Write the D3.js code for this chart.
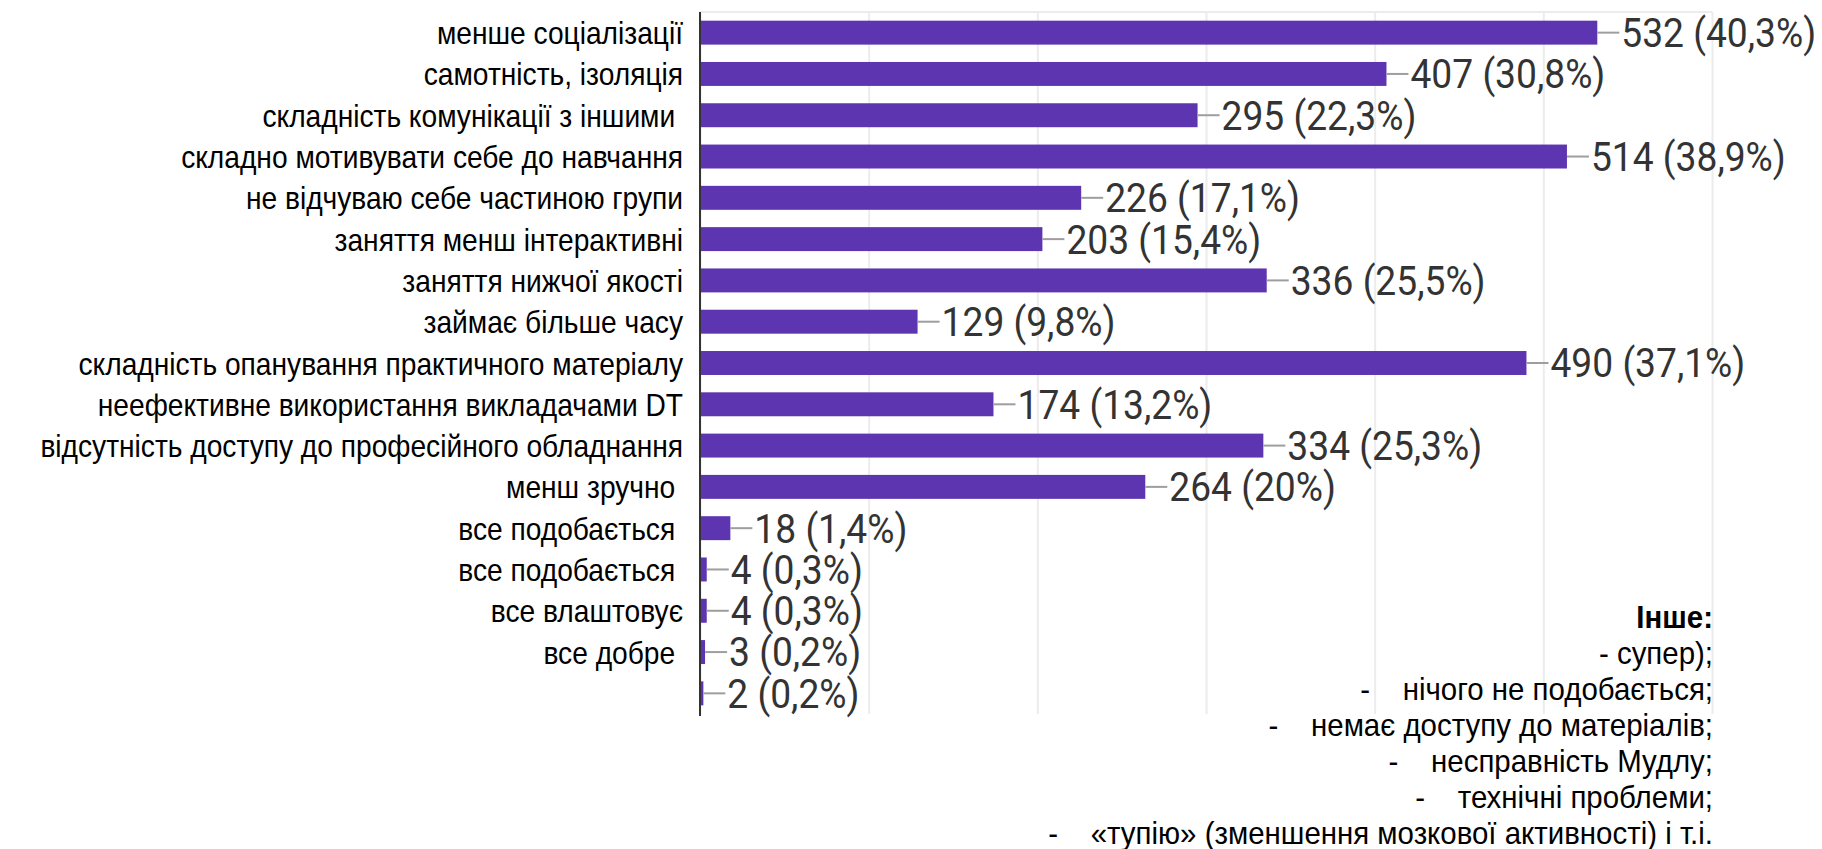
<!DOCTYPE html>
<html>
<head>
  <meta charset="utf8">
  <title>Недоліки дистанційного навчання</title>
  <style type="text/css">
    body { margin: 0; background: #fff; }
    svg text { white-space: pre; }
    .cat { font-family: "Liberation Sans", Arial, sans-serif; font-size: 32px; fill: #000; }
    .val { font-family: Roboto, sans-serif; font-size: 40px; fill: #333; }
    .other { font-family: "Liberation Sans", Arial, sans-serif; font-size: 32px; fill: #000; }
    .grid line { stroke: #ececec; stroke-width: 2; }
    .grid .domain { display: none; }
  </style>
</head>
<body>

<script src="https://d3js.org/d3.v7.min.js"></script>

<script type="text/javascript">

var categories = [
  'менше соціалізації',
  'самотність, ізоляція',
  'складність комунікації з іншими ',
  'складно мотивувати себе до навчання',
  'не відчуваю себе частиною групи',
  'заняття менш інтерактивні',
  'заняття нижчої якості',
  'займає більше часу',
  'складність опанування практичного матеріалу',
  'неефективне використання викладачами DT',
  'відсутність доступу до професійного обладнання',
  'менш зручно ',
  'все подобається ',
  'все подобається ',
  'все влаштовує',
  'все добре ',
  ''
]

var counts = [532, 407, 295, 514, 226, 203, 336, 129, 490, 174, 334, 264, 18, 4, 4, 3, 2]

var percents = ['40,3%', '30,8%', '22,3%', '38,9%', '17,1%', '15,4%', '25,5%', '9,8%',
  '37,1%', '13,2%', '25,3%', '20%', '1,4%', '0,3%', '0,3%', '0,2%', '0,2%']

var xTicks = [0, 100, 200, 300, 400, 500, 600]

var otherTitle = 'Інше:'
var otherItems = [
  '- супер);',
  '-    нічого не подобається;',
  '-    немає доступу до матеріалів;',
  '-    несправність Мудлу;',
  '-    технічні проблеми;',
  '-    «тупію» (зменшення мозкової активності) і т.і.'
]

var width = 1822, height = 849
var plotLeft = 700, plotRight = 1712, plotTop = 12, plotBottom = 714
var catSqueeze = 0.88, valSqueeze = 0.93, otherSqueeze = 0.92

var svg = d3.select('body').append('svg')
    .attr('width', width)
    .attr('height', height)

var x = d3.scaleLinear()
    .domain([0, 600])
    .range([plotLeft, plotRight])

var y = d3.scaleBand()
    .domain(d3.range(categories.length))
    .range([plotTop, plotBottom])
    .paddingInner(0.42)
    .paddingOuter(0.21)

// grid + frame
svg.append('g')
    .attr('class', 'grid')
    .attr('transform', 'translate(0,' + plotBottom + ')')
    .call(d3.axisBottom(x).tickValues(xTicks).tickSize(-(plotBottom - plotTop)).tickFormat(''))

svg.append('line')
    .attr('x1', plotLeft).attr('x2', plotRight)
    .attr('y1', plotTop).attr('y2', plotTop)
    .style('stroke', '#ececec').style('stroke-width', 2)

// bars
svg.append('g').selectAll('rect')
    .data(counts)
    .enter()
    .append('rect')
    .attr('x', x(0))
    .attr('y', function(d, i) { return y(i) })
    .attr('width', function(d) { return x(d) - x(0) })
    .attr('height', y.bandwidth())
    .style('fill', '#5e35b1')

// leader lines + value labels
var vals = svg.append('g').selectAll('g')
    .data(counts)
    .enter()
    .append('g')
    .attr('transform', function(d, i) {
      return 'translate(' + x(d) + ',' + (y(i) + y.bandwidth() / 2) + ')'
    })

vals.append('line')
    .attr('x1', 0).attr('x2', 22)
    .style('stroke', '#9e9e9e').style('stroke-width', 2)

vals.append('text')
    .attr('class', 'val')
    .attr('dy', '0.36em')
    .attr('transform', 'translate(24,0) scale(' + valSqueeze + ',1)')
    .text(function(d, i) { return d + ' (' + percents[i] + ')' })

// category labels
svg.append('g').selectAll('text')
    .data(categories)
    .enter()
    .append('text')
    .attr('class', 'cat')
    .attr('text-anchor', 'end')
    .attr('dy', '0.36em')
    .attr('transform', function(d, i) {
      return 'translate(683,' + (y(i) + y.bandwidth() / 2) + ') scale(' + catSqueeze + ',1)'
    })
    .text(function(d) { return d })

// y axis line
svg.append('line')
    .attr('x1', plotLeft).attr('x2', plotLeft)
    .attr('y1', plotTop).attr('y2', plotBottom + 2)
    .style('stroke', '#333').style('stroke-width', 2)

// "other" answers
var other = svg.append('g')

other.append('text')
    .attr('class', 'other')
    .attr('text-anchor', 'end')
    .style('font-weight', 'bold')
    .attr('transform', 'translate(1713,628) scale(' + otherSqueeze + ',1)')
    .text(otherTitle)

other.selectAll('.item')
    .data(otherItems)
    .enter()
    .append('text')
    .attr('class', 'other item')
    .attr('text-anchor', 'end')
    .attr('transform', function(d, i) {
      return 'translate(1713,' + (664 + i * 36) + ') scale(' + otherSqueeze + ',1)'
    })
    .text(function(d) { return d })

</script>

</body>
</html>
